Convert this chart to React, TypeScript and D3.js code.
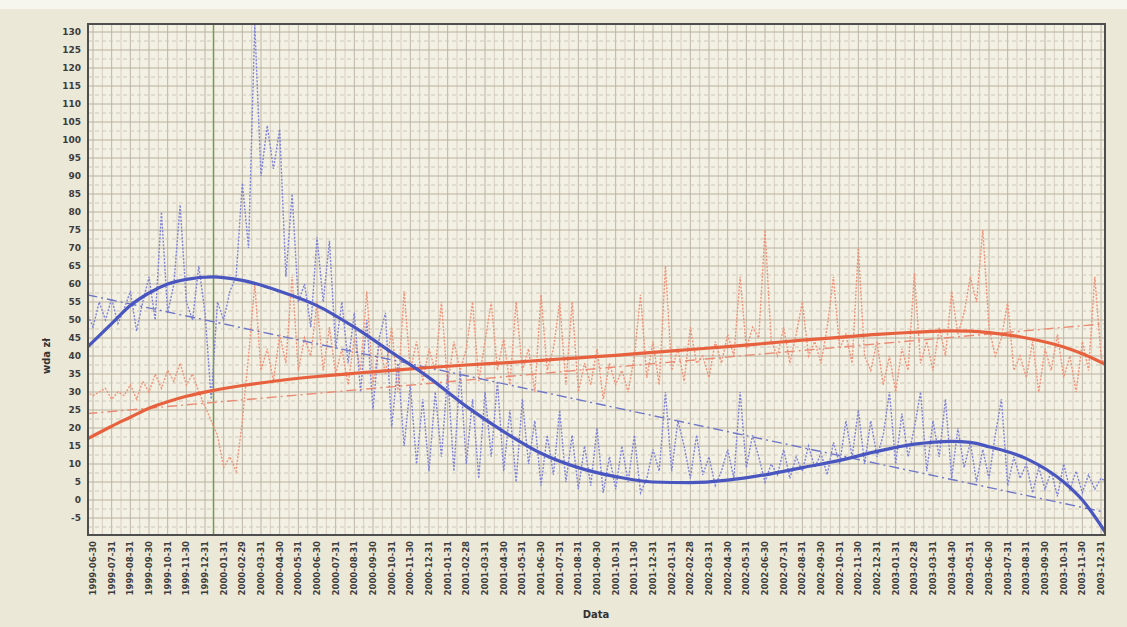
import * as d3 from "d3";

// monthly tick labels (month-end dates)
const startYear = 1999;
const startMonth = 6;
const monthCount = 55;

const tickLabels: string[] = d3.range(monthCount).map((i) => {
  const m0 = startMonth - 1 + i;
  const y = startYear + Math.floor(m0 / 12);
  const m = (m0 % 12) + 1;
  const last = new Date(Date.UTC(y, m, 0)).getUTCDate();
  return `${y}-${String(m).padStart(2, "0")}-${String(last).padStart(2, "0")}`;
});

const yTicks = d3.range(-5, 131, 5);

// raw observations, three per month, first one a third of a month before the month tick
const bluePrices = [
  52, 48, 55, 50, 56, 49, 53, 58, 47, 55, 62, 50, 80, 52, 60, 82, 55, 50, 65, 52, 28,
  55, 50, 58, 62, 88, 70, 132, 90, 104, 92, 103, 62, 85, 55, 60, 48, 73, 55, 72, 42, 55,
  38, 52, 30, 50, 25, 45, 52, 20, 38, 15, 32, 10, 28, 8, 30, 12, 35, 8, 36, 10, 28,
  6, 30, 12, 33, 8, 25, 5, 28, 10, 22, 4, 18, 7, 25, 5, 18, 3, 15, 4, 20, 2,
  12, 3, 15, 5, 18, 2, 6, 14, 8, 30, 8, 22, 15, 6, 18, 7, 12, 4, 8, 14, 6,
  30, 9, 18, 12, 5, 10, 7, 14, 6, 12, 8, 15, 9, 13, 7, 16, 10, 22, 12, 25, 10,
  22, 12, 18, 30, 10, 24, 12, 20, 30, 8, 22, 12, 28, 6, 20, 9, 16, 5, 14, 6, 18,
  28, 4, 12, 6, 10, 2, 9, 3, 8, 1, 10, 3, 8, 2, 7, 3, 6, 5,
];

const orangePrices = [
  30, 29, 30, 31, 28, 30, 29, 32, 28, 33, 30, 35, 31, 36, 33, 38, 32, 35, 30, 26, 22,
  18, 9, 12, 8, 22, 40, 60, 36, 42, 33, 46, 38, 62, 36, 45, 40, 55, 36, 48, 35, 42,
  32, 45, 36, 58, 32, 44, 35, 48, 30, 58, 36, 44, 33, 42, 36, 55, 32, 44, 36, 42, 55,
  33, 44, 55, 36, 45, 32, 55, 36, 42, 30, 57, 36, 42, 55, 32, 55, 30, 38, 32, 42, 28,
  38, 32, 36, 30, 40, 57, 34, 44, 32, 65, 36, 42, 33, 48, 38, 40, 34, 44, 38, 46, 40,
  62, 42, 48, 45, 75, 44, 40, 48, 38, 46, 55, 40, 44, 38, 48, 62, 42, 46, 38, 70, 40,
  36, 44, 32, 40, 30, 42, 36, 63, 38, 44, 36, 48, 40, 58, 46, 52, 62, 55, 75, 48, 40,
  45, 55, 36, 40, 34, 44, 30, 42, 36, 46, 34, 40, 30, 44, 36, 62, 40, 35,
];

// polynomial trends, read at these month positions
const trendMonths = [-0.3, 1, 2, 3, 4, 5, 6.4, 8, 10, 12, 14, 16, 18, 20, 22, 24, 26, 28, 30, 32, 34, 36, 38, 40, 42, 44, 46, 47, 48, 50, 52, 53, 54.3];
const blueTrend = [42.5, 49, 54, 57.5, 60, 61.3, 62, 61, 58, 54, 48, 41, 34, 26, 19, 13, 9, 6.5, 5, 4.8, 5.5, 7, 9, 11, 13.5, 15.5, 16.3, 16, 14.8, 11.5, 5, 0, -9.5];
const orangeTrend = [17, 20.5, 23, 25.5, 27.3, 28.8, 30.4, 31.8, 33.2, 34.3, 35.2, 36, 36.8, 37.5, 38.1, 38.8, 39.5, 40.2, 41, 41.8, 42.6, 43.5, 44.4, 45.2, 46, 46.6, 47, 46.9, 46.5, 45, 42.5, 40.6, 37.5];

// linear trends: value at left and right edge
const linearMonths = [-0.3, 54.3];
const blueLinear = [57, -3.5];
const orangeLinear = [24, 49];

const markerMonth = 6.45;

const W = 1127;
const H = 627;
const plot = { left: 88, top: 24, right: 1105, bottom: 535 };

export default function App() {
  const x = d3.scaleLinear().domain([0, monthCount - 1]).range([93, 1101]);
  const y = d3.scaleLinear().domain([0, 130]).range([500, 32]);

  const rawX = (i: number) => x(-1 / 3 + i / 3);

  const rawLine = d3
    .line<number>()
    .x((_, i) => rawX(i))
    .y((d) => y(d));

  const trendLine = d3
    .line<[number, number]>()
    .x((d) => x(d[0]))
    .y((d) => y(d[1]))
    .curve(d3.curveMonotoneX);

  const zip = (xs: number[], ys: number[]) => xs.map((m, i) => [m, ys[i]] as [number, number]);

  const minorY = d3.range(-7.5, 132.5, 5);
  const halfMonths = d3.range(-0.5, monthCount, 1);
  const font = "Tahoma, 'DejaVu Sans', sans-serif";

  return (
    <div style={{ position: "fixed", left: 0, top: 0 }}>
      <svg width={W} height={H} style={{ display: "block" }}>
        <rect width={W} height={H} fill="#ebe8d8" />
        <rect width={W} height={9} fill="#f6f5ee" />
        <defs>
          <clipPath id="plotClip">
            <rect x={plot.left} y={plot.top} width={plot.right - plot.left} height={plot.bottom - plot.top} />
          </clipPath>
        </defs>
        <rect x={plot.left} y={plot.top} width={plot.right - plot.left} height={plot.bottom - plot.top} fill="#f3f1e3" />

        <g clipPath="url(#plotClip)">
          {/* grid */}
          {halfMonths.map((m) => (
            <line key={"hm" + m} x1={x(m)} x2={x(m)} y1={plot.top} y2={plot.bottom} stroke="#d6cfbf" strokeWidth={1} />
          ))}
          {tickLabels.map((_, i) => (
            <line key={"vm" + i} x1={x(i)} x2={x(i)} y1={plot.top} y2={plot.bottom} stroke="#bdb4a3" strokeWidth={1} />
          ))}
          {minorY.map((v) => (
            <line key={"hy" + v} x1={plot.left} x2={plot.right} y1={y(v)} y2={y(v)} stroke="#cfc8b8" strokeWidth={1} strokeDasharray="4,3" />
          ))}
          {yTicks.map((v) => (
            <line key={"gy" + v} x1={plot.left} x2={plot.right} y1={y(v)} y2={y(v)} stroke="#b9b09f" strokeWidth={1} />
          ))}

          <line x1={x(markerMonth)} x2={x(markerMonth)} y1={plot.top} y2={plot.bottom} stroke="#5fa84a" strokeWidth={1.3} />

          {/* raw series */}
          <path d={rawLine(orangePrices) ?? ""} fill="none" stroke="#f0927a" strokeWidth={1.4} strokeDasharray="2,1.5" />
          <path d={rawLine(bluePrices) ?? ""} fill="none" stroke="#7f82d6" strokeWidth={1.4} strokeDasharray="2,1.5" />

          {/* linear trends */}
          <path d={trendLine(zip(linearMonths, orangeLinear)) ?? ""} fill="none" stroke="#ea8a74" strokeWidth={1.4} strokeDasharray="10,4,2,4" />
          <path d={trendLine(zip(linearMonths, blueLinear)) ?? ""} fill="none" stroke="#6f76c8" strokeWidth={1.4} strokeDasharray="10,4,2,4" />

          {/* polynomial trends */}
          <path d={trendLine(zip(trendMonths, orangeTrend)) ?? ""} fill="none" stroke="#e8613e" strokeWidth={3.2} />
          <path d={trendLine(zip(trendMonths, blueTrend)) ?? ""} fill="none" stroke="#4a56c0" strokeWidth={3.2} />
        </g>

        <rect x={plot.left} y={plot.top} width={plot.right - plot.left} height={plot.bottom - plot.top} fill="none" stroke="#4e4e4e" strokeWidth={2} />

        {/* y axis */}
        {yTicks.map((v) => (
          <text key={"yl" + v} x={81} y={y(v)} dy="0.35em" textAnchor="end" fontFamily={font} fontWeight="bold" fontSize={9} fill="#3c3c3c">
            {v}
          </text>
        ))}
        <text transform={`translate(50,${356}) rotate(-90)`} textAnchor="middle" fontFamily={font} fontWeight="bold" fontSize={10} fill="#333">
          wda zł
        </text>

        {/* x axis */}
        {tickLabels.map((t, i) => (
          <text key={"xl" + i} transform={`translate(${x(i) + 3},541) rotate(-90)`} textAnchor="end" fontFamily={font} fontWeight="bold" fontSize={8.5} fill="#3c3c3c">
            {t}
          </text>
        ))}
        <text x={596} y={618} textAnchor="middle" fontFamily={font} fontWeight="bold" fontSize={10} fill="#333">
          Data
        </text>
      </svg>
    </div>
  );
}
